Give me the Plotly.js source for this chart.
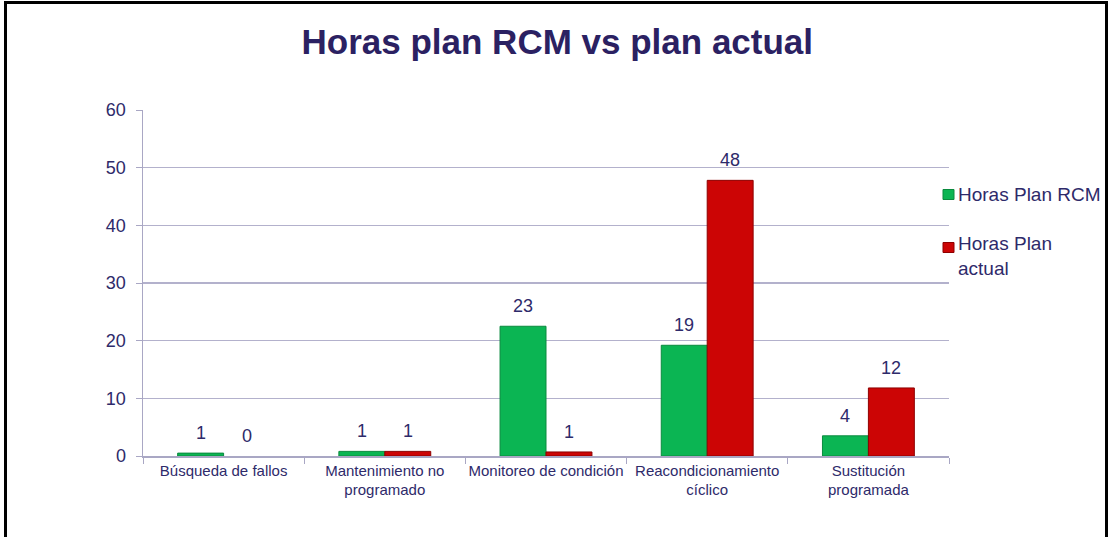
<!DOCTYPE html>
<html>
<head>
<meta charset="utf-8">
<script src="https://cdn.plot.ly/plotly-3.0.1.min.js"></script>
<style>
html,body{margin:0;padding:0;background:#fff;overflow:hidden;}
#frame{position:absolute;left:4px;top:1px;width:1104px;height:600px;border:3px solid #000;box-sizing:border-box;pointer-events:none;z-index:10;}
#chart{position:absolute;left:0;top:0;width:1110px;height:537px;}
</style>
</head>
<body>
<div id="chart"></div>
<div id="frame"></div>
<script>
var categories = ['Búsqueda de fallos', 'Mantenimiento no<br>programado', 'Monitoreo de condición', 'Reacondicionamiento<br>cíclico', 'Sustitución<br>programada'];
var seriesNames = ['Horas Plan RCM', 'Horas Plan<br>actual'];
var rcmValues = [0.5, 0.8, 22.5, 19.2, 3.5];
var actualValues = [0, 0.8, 0.7, 47.8, 11.8];
var rcmLabels = ['1', '1', '23', '19', '4'];
var actualLabels = ['0', '1', '1', '48', '12'];
var yTicks = [0, 10, 20, 30, 40, 50, 60];

var textColor = '#2e2a6a';
var font = 'Liberation Sans, Arial, sans-serif';
var colors = ['#0bb553', '#cc0505'];
var lineColors = ['#0a8a3e', '#8e0000'];

function outlineWidths(vals) { return vals.map(function (v) { return v > 0 ? 1 : 0; }); }

var traces = [
  {
    type: 'bar', name: seriesNames[0], x: categories, y: rcmValues,
    marker: {color: colors[0], line: {color: lineColors[0], width: outlineWidths(rcmValues)}},
    hoverinfo: 'x+y'
  },
  {
    type: 'bar', name: seriesNames[1], x: categories, y: actualValues,
    marker: {color: colors[1], line: {color: lineColors[1], width: outlineWidths(actualValues)}},
    hoverinfo: 'x+y'
  }
];

var annotations = [];
function addLabels(vals, labels, shift) {
  for (var i = 0; i < categories.length; i++) {
    annotations.push({
      x: categories[i], y: vals[i], xref: 'x', yref: 'y',
      text: labels[i], showarrow: false,
      xanchor: 'center', yanchor: 'middle',
      xshift: shift, yshift: 20,
      font: {family: font, size: 18, color: textColor}
    });
  }
}
addLabels(rcmValues, rcmLabels, -23);
addLabels(actualValues, actualLabels, 23);

// manual legend (plot area: x 143..949 px, y 110..456 px)
function px(x) { return (x - 143) / 806; }
function py(y) { return (456 - y) / 346; }
var shapes = [];
var legendRows = [194.5, 247.5];
var legendTextY = [194, 256];
for (var k = 0; k < seriesNames.length; k++) {
  shapes.push({
    type: 'rect', xref: 'paper', yref: 'paper',
    x0: px(943), x1: px(954), y0: py(legendRows[k] - 5), y1: py(legendRows[k] + 5),
    fillcolor: colors[k], line: {color: lineColors[k], width: 1}
  });
  annotations.push({
    xref: 'paper', yref: 'paper', x: px(956), y: py(legendTextY[k]),
    xanchor: 'left', yanchor: 'middle', align: 'left', showarrow: false,
    text: seriesNames[k],
    font: {family: font, size: 19, color: textColor}
  });
}

var layout = {
  width: 1110, height: 537,
  paper_bgcolor: '#ffffff', plot_bgcolor: '#ffffff',
  margin: {l: 143, r: 161, t: 110, b: 81},
  title: {
    text: '<b>Horas plan RCM vs plan actual</b>',
    font: {family: 'Liberation Sans Narrow, Arial Narrow, Liberation Sans, sans-serif', size: 35, color: '#2b2162'},
    x: 0.514, xanchor: 'center', xref: 'paper',
    y: 1 - 42/537, yanchor: 'middle', yref: 'container'
  },
  barmode: 'group', bargap: 0.43, bargroupgap: 0,
  xaxis: {
    type: 'category',
    showline: true, linecolor: '#a9a7c4', linewidth: 1.5,
    ticks: 'outside', tickson: 'boundaries', ticklen: 6, tickcolor: '#a9a7c4',
    tickangle: 0,
    tickfont: {family: font, size: 15, color: textColor},
    showgrid: false, automargin: false
  },
  yaxis: {
    range: [0, 60], tickvals: yTicks, ticktext: yTicks.map(String),
    showline: true, linecolor: '#a9a7c4', linewidth: 1.5,
    showgrid: true, gridcolor: '#b3b1cc', gridwidth: 1.5,
    ticks: 'outside', ticklen: 6, tickcolor: '#a9a7c4',
    ticklabelstandoff: 6,
    tickfont: {family: font, size: 18, color: textColor},
    zeroline: false, automargin: false
  },
  annotations: annotations,
  shapes: shapes,
  showlegend: false
};

Plotly.newPlot('chart', traces, layout, {displayModeBar: false, staticPlot: true});
</script>
</body>
</html>
